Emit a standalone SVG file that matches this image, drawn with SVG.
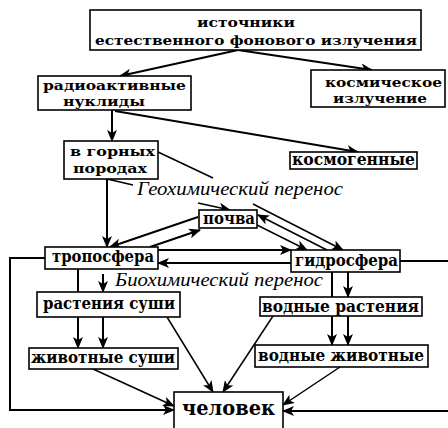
<svg xmlns="http://www.w3.org/2000/svg" width="448" height="428" viewBox="0 0 448 428">
<style>
rect{fill:#fff;stroke:#000;stroke-width:1.6}
.t{font-family:"DejaVu Serif","Liberation Serif",serif;font-weight:bold;font-size:16px;fill:#000}
.t2{font-size:13.5px}
.i{font-family:"Liberation Serif",serif;font-style:italic;font-size:18px;fill:#000}
.c line,.c polyline{stroke:#000;stroke-width:2;fill:none}
.c .a{marker-end:url(#ah)}
.c .thin{stroke-width:1.5}
</style>
<defs>
<marker id="ah" viewBox="0 0 12 10" refX="11" refY="5" markerWidth="12" markerHeight="10" markerUnits="userSpaceOnUse" orient="auto">
<path d="M0,0 L12,5 L0,10 L3,5 z" fill="#000"/>
</marker>
</defs>
<g class="c" id="connectors">
<line class="a" x1="238" y1="50" x2="120" y2="76"/>
<line class="a" x1="238" y1="50" x2="372" y2="70"/>
<line class="a" x1="112" y1="110" x2="112" y2="141"/>
<line class="a" x1="115" y1="111" x2="358" y2="152"/>
<line class="thin" x1="158" y1="152" x2="213" y2="178"/>
<line class="thin" x1="107" y1="179" x2="133" y2="185"/>
<line class="a" x1="107" y1="179" x2="107" y2="247"/>
<line class="a thin" x1="198" y1="203" x2="230" y2="210"/>
<line class="a" x1="198" y1="217" x2="110" y2="247"/>
<line class="a" x1="150" y1="247" x2="200" y2="230"/>
<line class="a thin" x1="257" y1="225" x2="307" y2="250"/>
<line class="a thin" x1="327" y1="250" x2="258" y2="215"/>
<line class="a thin" x1="253" y1="204" x2="343" y2="250"/>
<line class="a" x1="158" y1="250" x2="291" y2="250"/>
<line class="a" x1="291" y1="263" x2="158" y2="263"/>
<polyline class="a" points="45,258 10,258 10,410 174,410"/>
<line x1="400" y1="261" x2="448" y2="261"/>
<line class="a" x1="448" y1="411" x2="283" y2="411"/>
<line x1="78" y1="269" x2="78" y2="292"/>
<line class="a" x1="103" y1="274" x2="103" y2="292"/>
<line x1="332" y1="272" x2="332" y2="297"/>
<line class="a" x1="348" y1="272" x2="348" y2="297"/>
<line class="a" x1="78" y1="317" x2="78" y2="348"/>
<line class="a" x1="103" y1="317" x2="103" y2="348"/>
<line class="a" x1="332" y1="316" x2="332" y2="345"/>
<line class="a" x1="348" y1="316" x2="348" y2="345"/>
<line class="a thin" x1="93" y1="369" x2="174" y2="406"/>
<line class="a thin" x1="167" y1="317" x2="213" y2="392"/>
<line class="a thin" x1="273" y1="316" x2="223" y2="392"/>
<line class="a thin" x1="340" y1="367" x2="283" y2="405"/>
</g>
<g id="sources"><rect x="90" y="10" width="331" height="40"/>
<text class="t t2"><tspan x="197" y="27" textLength="98" lengthAdjust="spacingAndGlyphs">источники</tspan><tspan x="95" y="45" textLength="322" lengthAdjust="spacingAndGlyphs">естественного фонового излучения</tspan></text></g>
<g id="radionuclides"><rect x="38" y="76" width="153" height="34"/>
<text class="t t2"><tspan x="43" y="90" textLength="143" lengthAdjust="spacingAndGlyphs">радиоактивные</tspan><tspan x="63" y="106" textLength="82" lengthAdjust="spacingAndGlyphs">нуклиды</tspan></text></g>
<g id="cosmic"><rect x="311" y="70" width="134" height="37"/>
<text class="t t2"><tspan x="325" y="87" textLength="117" lengthAdjust="spacingAndGlyphs">космическое</tspan><tspan x="333" y="103" textLength="94" lengthAdjust="spacingAndGlyphs">излучение</tspan></text></g>
<g id="rocks"><rect x="64" y="141" width="94" height="38"/>
<text class="t t2"><tspan x="70" y="156" textLength="85" lengthAdjust="spacingAndGlyphs">в горных</tspan><tspan x="73" y="173" textLength="74" lengthAdjust="spacingAndGlyphs">породах</tspan></text></g>
<g id="cosmogenic"><rect x="290" y="152" width="127" height="17"/>
<text class="t" x="292" y="165" textLength="123" lengthAdjust="spacingAndGlyphs">космогенные</text></g>
<g id="geo-label"><text class="i" x="137" y="195" textLength="206" lengthAdjust="spacingAndGlyphs">Геохимический перенос</text></g>
<g id="soil"><rect x="199" y="210" width="58" height="18"/>
<text class="t" x="203" y="224" textLength="52" lengthAdjust="spacingAndGlyphs">почва</text></g>
<g id="troposphere"><rect x="45" y="247" width="113" height="22"/>
<text class="t" x="52" y="262" textLength="102" lengthAdjust="spacingAndGlyphs">тропосфера</text></g>
<g id="hydrosphere"><rect x="291" y="250" width="109" height="22"/>
<text class="t" x="295" y="266" textLength="103" lengthAdjust="spacingAndGlyphs">гидросфера</text></g>
<g id="bio-label"><text class="i" x="115" y="286" textLength="208" lengthAdjust="spacingAndGlyphs">Биохимический перенос</text></g>
<g id="land-plants"><rect x="37" y="292" width="143" height="25"/>
<text class="t" x="43" y="309" textLength="132" lengthAdjust="spacingAndGlyphs">растения суши</text></g>
<g id="water-plants"><rect x="260" y="297" width="162" height="19"/>
<text class="t" x="262" y="312" textLength="157" lengthAdjust="spacingAndGlyphs">водные растения</text></g>
<g id="land-animals"><rect x="29" y="348" width="149" height="21"/>
<text class="t" x="31" y="363" textLength="144" lengthAdjust="spacingAndGlyphs">животные суши</text></g>
<g id="water-animals"><rect x="255" y="345" width="173" height="22"/>
<text class="t" x="258" y="361" textLength="166" lengthAdjust="spacingAndGlyphs">водные животные</text></g>
<g id="human"><rect x="174" y="392" width="109" height="40"/>
<text class="t" x="182" y="415" style="font-size:21px" textLength="93" lengthAdjust="spacingAndGlyphs">человек</text></g>
</svg>
